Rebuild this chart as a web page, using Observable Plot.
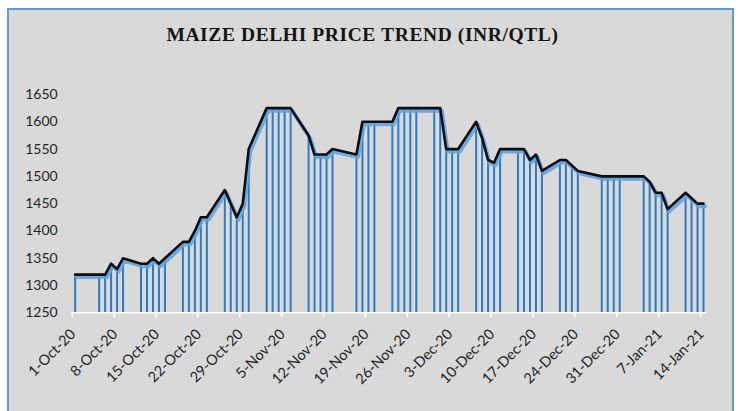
<!DOCTYPE html>
<html><head><meta charset="utf-8">
<script src="https://cdn.jsdelivr.net/npm/d3@7"></script>
<script src="https://cdn.jsdelivr.net/npm/@observablehq/plot@0.6"></script>
<style>
body{margin:0;background:#fff;}
#wrap{position:relative;width:738px;height:411px;overflow:hidden;}
#panel{position:absolute;left:7px;top:8px;width:723px;height:410px;background:#d9d9d9;border:2px solid #5b9bd5;border-bottom:none;}
#title{position:absolute;top:24px;left:0;width:725px;text-align:center;font:bold 19.5px/22px "Liberation Serif","Times New Roman",serif;letter-spacing:0.6px;color:#141414;}
#chart{position:absolute;top:60px;left:0;}
</style></head>
<body>
<div id="wrap">
  <div id="panel"></div>
  <div id="title">MAIZE DELHI PRICE TREND (INR/QTL)</div>
  <div id="chart"></div>
</div>
<script>
const dates = [
  "2020-10-01","2020-10-05","2020-10-06","2020-10-07","2020-10-08","2020-10-09",
  "2020-10-12","2020-10-13","2020-10-14","2020-10-15","2020-10-16",
  "2020-10-19","2020-10-20","2020-10-21","2020-10-22","2020-10-23",
  "2020-10-26","2020-10-27","2020-10-28","2020-10-29","2020-10-30",
  "2020-11-02","2020-11-03","2020-11-04","2020-11-05","2020-11-06",
  "2020-11-09","2020-11-10","2020-11-11","2020-11-12","2020-11-13",
  "2020-11-17","2020-11-18","2020-11-19","2020-11-20",
  "2020-11-23","2020-11-24","2020-11-25","2020-11-26","2020-11-27",
  "2020-11-30","2020-12-01","2020-12-02","2020-12-03","2020-12-04",
  "2020-12-07","2020-12-08","2020-12-09","2020-12-10","2020-12-11",
  "2020-12-14","2020-12-15","2020-12-16","2020-12-17","2020-12-18",
  "2020-12-21","2020-12-22","2020-12-23","2020-12-24",
  "2020-12-28","2020-12-29","2020-12-30","2020-12-31",
  "2021-01-04","2021-01-05","2021-01-06","2021-01-07","2021-01-08",
  "2021-01-11","2021-01-12","2021-01-13","2021-01-14"
];
const prices = [
  1320,1320,1320,1340,1330,1350,
  1340,1340,1350,1340,1350,
  1380,1380,1400,1425,1425,
  1475,1450,1425,1450,1550,
  1625,1625,1625,1625,1625,
  1575,1540,1540,1540,1550,
  1540,1600,1600,1600,
  1600,1625,1625,1625,1625,
  1625,1625,1550,1550,1550,
  1600,1570,1530,1525,1550,
  1550,1550,1530,1540,1510,
  1530,1530,1520,1510,
  1500,1500,1500,1500,
  1500,1490,1470,1470,1440,
  1470,1460,1450,1450
];
const tickDates = ["2020-10-01","2020-10-08","2020-10-15","2020-10-22","2020-10-29","2020-11-05","2020-11-12","2020-11-19","2020-11-26","2020-12-03","2020-12-10","2020-12-17","2020-12-24","2020-12-31","2021-01-07","2021-01-14"];
const tickLabels = ["1-Oct-20","8-Oct-20","15-Oct-20","22-Oct-20","29-Oct-20","5-Nov-20","12-Nov-20","19-Nov-20","26-Nov-20","3-Dec-20","10-Dec-20","17-Dec-20","24-Dec-20","31-Dec-20","7-Jan-21","14-Jan-21"];
const yTicks = [1250,1300,1350,1400,1450,1500,1550,1600,1650];

const data = dates.map((d, i) => ({date: new Date(d + "T12:00:00Z"), price: prices[i]}));
const ticks = tickDates.map((d, i) => ({date: new Date(d + "T00:00:00Z"), label: tickLabels[i]}));

const chart = Plot.plot({
  width: 738,
  height: 351,
  marginTop: 34,
  marginBottom: 98.7,
  marginLeft: 71.7,
  marginRight: 32,
  style: {background: "transparent", fontFamily: "Lato, sans-serif", fontSize: "14px", color: "#262626"},
  x: {type: "utc", domain: [new Date("2020-10-01T00:00:00Z"), new Date("2021-01-15T00:00:00Z")], axis: null},
  y: {domain: [1250, 1650], axis: null},
  marks: [
    Plot.ruleX(data, {x: "date", y1: 1250, y2: "price", stroke: "#2a7bc6", strokeWidth: 2}),
    Plot.ruleY([1250], {stroke: "#ffffff", strokeWidth: 1.5}),
    Plot.ruleX(ticks, {x: "date", y1: 1250, y2: 1241, stroke: "#ffffff", strokeWidth: 1.5}),
    Plot.line(data, {x: "date", y: "price", stroke: "#5ea3e2", strokeWidth: 4, strokeOpacity: 0.9, dx: 1.5, dy: 2.5}),
    Plot.line(data, {x: "date", y: "price", stroke: "#0d0d0d", strokeWidth: 2.6}),
    Plot.text(yTicks, {x: new Date("2020-10-01T00:00:00Z"), y: d => d, text: d => String(d), textAnchor: "end", dx: -14.5, fill: "#262626", fontSize: 14}),
    Plot.text(ticks, {x: "date", y: 1250, text: "label", rotate: -45, textAnchor: "end", dx: 1, dy: 19, fill: "#262626", fontSize: 14.5})
  ]
});
document.getElementById("chart").appendChild(chart);
</script>
</body></html>
